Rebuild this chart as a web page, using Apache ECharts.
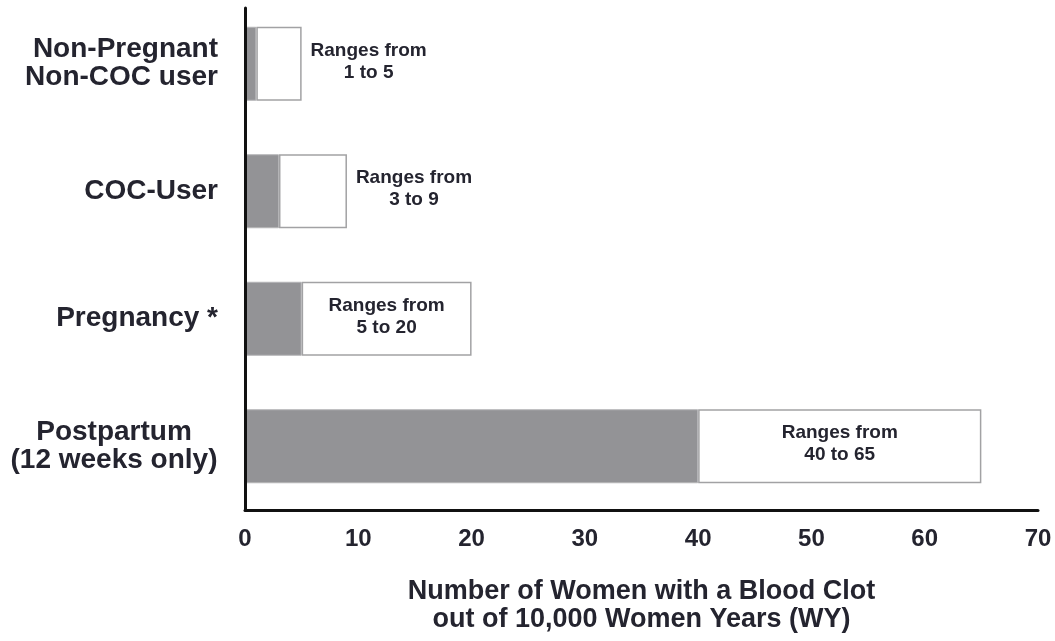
<!DOCTYPE html>
<html>
<head>
<meta charset="utf-8">
<script src="https://cdn.jsdelivr.net/npm/echarts@6/dist/echarts.min.js"></script>
<style>
html,body{margin:0;padding:0;background:#fff;}
#chart{width:1055px;height:641px;}
</style>
</head>
<body>
<div id="chart"></div>
<script>
const categories = ['Non-Pregnant\nNon-COC user', 'COC-User', 'Pregnancy *', 'Postpartum\n(12 weeks only)'];
const lowValues = [1, 3, 5, 40];
const highValues = [5, 9, 20, 65];
const labelPositions = ['right', 'right', 'inside', 'inside'];
const xTicks = [0, 10, 20, 30, 40, 50, 60, 70];
const xAxisTitle = 'Number of Women with a Blood Clot\nout of 10,000 Women Years (WY)';

const FONT = '"Liberation Sans", Arial, sans-serif';
const TXT = '#24242f';

const rangeData = lowValues.map((lo, i) => ({
  value: highValues[i] - lo,
  label: {
    position: labelPositions[i],
    align: labelPositions[i] === 'right' ? 'left' : 'center'
  }
}));

const chart = echarts.init(document.getElementById('chart'), null, { renderer: 'canvas' });
chart.setOption({
  animation: false,
  backgroundColor: '#ffffff',
  grid: [
    { left: 245, right: 17, top: -5, bottom: 131, containLabel: false },
    { left: 245, right: 17, top: 8, bottom: 131, containLabel: false }
  ],
  xAxis: [
    {
      gridIndex: 0,
      type: 'value',
      min: xTicks[0],
      max: xTicks[xTicks.length - 1],
      interval: 10,
      axisLine: { show: true, lineStyle: { color: '#111', width: 3 } },
      axisTick: { show: false },
      splitLine: { show: false },
      axisLabel: {
        margin: 17,
        fontFamily: FONT,
        fontWeight: 'bold',
        fontSize: 24,
        color: TXT
      },
      name: xAxisTitle,
      nameLocation: 'middle',
      nameGap: 68,
      nameTextStyle: {
        fontFamily: FONT,
        fontWeight: 'bold',
        fontSize: 27,
        lineHeight: 28,
        color: TXT,
        align: 'center'
      }
    },
    {
      gridIndex: 1,
      type: 'value',
      min: 0,
      max: 70,
      show: false
    }
  ],
  yAxis: [
    {
      gridIndex: 0,
      type: 'category',
      data: categories,
      inverse: true,
      axisLine: { show: false },
      axisTick: { show: false },
      splitLine: { show: false },
      axisLabel: {
        margin: 27,
        fontFamily: FONT,
        fontWeight: 'bold',
        fontSize: 28,
        lineHeight: 28,
        color: TXT,
        formatter: function (v, idx) {
          if (idx === 3) {
            return v.split('\n').map(s => '{c|' + s + '}').join('\n');
          }
          return v;
        },
        rich: {
          c: {
            width: 208,
            align: 'center',
            fontFamily: FONT,
            fontWeight: 'bold',
            fontSize: 28,
            lineHeight: 28,
            color: TXT
          }
        }
      }
    },
    {
      gridIndex: 1,
      type: 'value',
      min: 0,
      max: 1,
      z: 10,
      axisLine: { show: true, lineStyle: { color: '#111', width: 3 } },
      axisTick: { show: false },
      axisLabel: { show: false },
      splitLine: { show: false }
    }
  ],
  series: [
    {
      type: 'bar',
      xAxisIndex: 0,
      yAxisIndex: 0,
      stack: 'risk',
      barWidth: 74,
      data: lowValues,
      itemStyle: { color: '#939396', borderColor: '#b4b4b6', borderWidth: 1 },
      silent: true
    },
    {
      type: 'bar',
      xAxisIndex: 0,
      yAxisIndex: 0,
      stack: 'risk',
      barWidth: 74,
      data: rangeData,
      itemStyle: { color: '#ffffff', borderColor: '#a2a2a4', borderWidth: 1.5 },
      label: {
        show: true,
        distance: 8,
        offset: [0, -2],
        color: TXT,
        formatter: function (p) {
          return '{r|Ranges from}\n{r|' + lowValues[p.dataIndex] + ' to ' + highValues[p.dataIndex] + '}';
        },
        rich: {
          r: {
            width: 118,
            align: 'center',
            fontFamily: FONT,
            fontWeight: 'bold',
            fontSize: 19,
            lineHeight: 22,
            color: TXT
          }
        }
      },
      silent: true
    }
  ]
});
</script>
</body>
</html>
